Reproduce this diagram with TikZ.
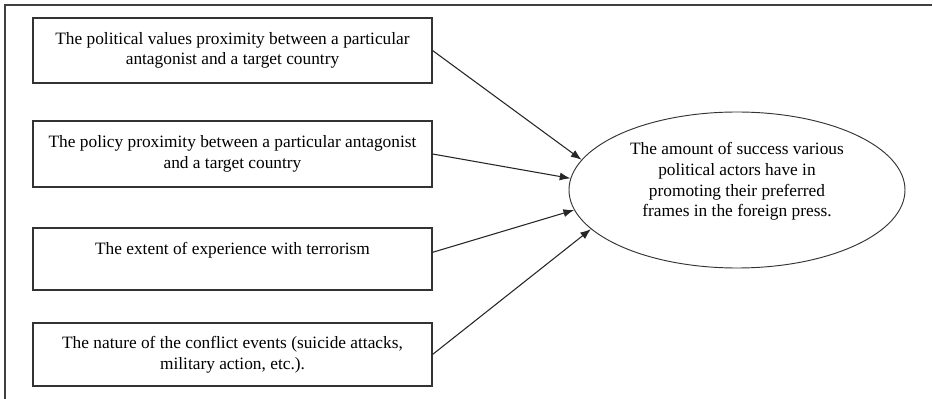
\documentclass[tikz,border=0pt]{standalone}
\usepackage{fontspec}
\setmainfont{Liberation Serif}
\usetikzlibrary{arrows.meta,shapes.geometric}
\tikzset{
  factor/.style={draw=black!80, line width=0.8pt, rectangle, align=center,
    minimum width=299.25pt, inner sep=0pt,
    font=\fontsize{13pt}{15.5pt}\selectfont},
  outcome/.style={draw=black!80, line width=0.7pt, ellipse, align=center,
    minimum width=252pt, minimum height=117pt, inner sep=0pt,
    font=\fontsize{13pt}{15.5pt}\selectfont},
  link/.style={draw=black!85, line width=0.8pt,
    -{Latex[length=8pt,width=6pt]}},
  frameline/.style={draw=black!75, line width=1.3pt}
}
\begin{document}
\begin{tikzpicture}[x=0.75pt,y=-0.75pt]
\useasboundingbox (0,0) rectangle (933,399);
\draw[frameline] (5,399) -- (5,5) -- (932,5);

\node[factor, minimum height=48.75pt] (b1) at (232.5,50.5)
  {The political values proximity between a particular\\antagonist and a target country};
\node[factor, minimum height=49.5pt] (b2) at (232.5,154)
  {The policy proximity between a particular antagonist\\and a target country};
\node[factor, minimum height=46.5pt] (b3) at (232.5,259)
  {The extent of experience with terrorism\\\mbox{}};
\node[factor, minimum height=47.25pt] (b4) at (232.5,354.5)
  {The nature of the conflict events (suicide attacks,\\military action, etc.).};

\node[outcome] (e) at (737,190)
  {The amount of success various\\political actors have in\\promoting their preferred\\frames in the foreign press.\\\mbox{}};

\draw[link] (b1.east) -- (e.169);
\draw[link] (b2.east) -- (e.176);
\draw[link] ([yshift=5pt]b3.east) -- (e.187.5);
\draw[link] (b4.east) -- (e.195);
\end{tikzpicture}
\end{document}
